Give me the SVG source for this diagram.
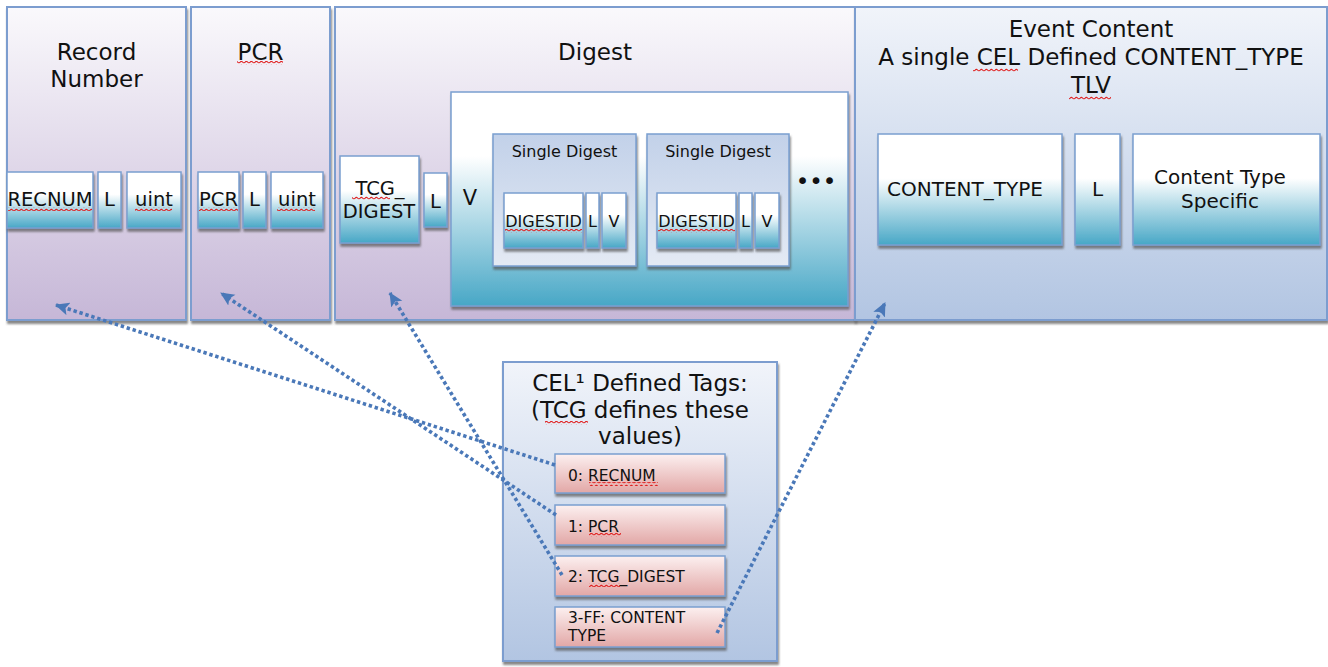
<svg xmlns="http://www.w3.org/2000/svg" width="1328" height="667" viewBox="0 0 1328 667">
<defs>
<linearGradient id="gOuter" x1="0" y1="0" x2="0" y2="1"><stop offset="0" stop-color="#faf9fc"/><stop offset="1" stop-color="#c6b7d7"/></linearGradient>
<linearGradient id="gBlue" x1="0" y1="0" x2="0" y2="1"><stop offset="0" stop-color="#f1f4fa"/><stop offset="1" stop-color="#b2c5e2"/></linearGradient>
<linearGradient id="gTeal" x1="0" y1="0" x2="0" y2="1"><stop offset="0" stop-color="#ffffff"/><stop offset="0.4" stop-color="#ffffff"/><stop offset="1" stop-color="#47a7c6"/></linearGradient>
<linearGradient id="gTealV" x1="0" y1="0" x2="0" y2="1"><stop offset="0" stop-color="#ffffff"/><stop offset="0.3" stop-color="#ffffff"/><stop offset="1" stop-color="#47a7c6"/></linearGradient>
<linearGradient id="gSingle" x1="0" y1="0" x2="0" y2="1"><stop offset="0" stop-color="#c2d1e9"/><stop offset="1" stop-color="#e4eaf4"/></linearGradient>
<linearGradient id="gPink" x1="0" y1="0" x2="0" y2="1"><stop offset="0" stop-color="#fcf0f0"/><stop offset="1" stop-color="#e2a7a6"/></linearGradient>
<filter id="sh" x="-10%" y="-10%" width="125%" height="130%"><feDropShadow dx="1" dy="3" stdDeviation="0.8" flood-color="#555" flood-opacity="0.7"/></filter>
<pattern id="wavy" width="5" height="4" patternUnits="userSpaceOnUse"><path d="M0,2.5 Q1.25,0.5 2.5,2 T5,2" fill="none" stroke="#e02020" stroke-width="1.1"/></pattern>
<marker id="arr" markerWidth="14" markerHeight="14" viewBox="0 0 14 14" refX="13" refY="7" orient="auto" markerUnits="userSpaceOnUse"><path d="M0,0.5 L14,7 L0,13.5 L3,7 Z" fill="#4a78b8"/></marker>
</defs>
<style>
.outer{stroke:#7c9dcf;stroke-width:2;filter:url(#sh)}
.box{stroke:#7a9fd0;stroke-width:1.5;filter:url(#sh)}
.teal{fill:url(#gTeal)}
.pink{fill:url(#gPink)}
text{font-family:"DejaVu Sans",Verdana,sans-serif;fill:#111}
.t23{font-size:23px;text-anchor:middle}
.t20{font-size:19.5px;text-anchor:middle}
.t16{font-size:16px;text-anchor:middle}
.tag{font-size:15.5px}
.w{fill:url(#wavy)}
.conn{fill:none;stroke:#4a78b8;stroke-width:3.6;stroke-dasharray:3.4 2.8;marker-end:url(#arr)}
</style>

<g id="record-number">
<rect class="outer" x="7" y="7" width="179" height="313" fill="url(#gOuter)"/>
<text class="t23" x="96.5" y="60">Record</text>
<text class="t23" x="96.5" y="87">Number</text>
<rect class="box teal" x="7" y="172" width="86" height="56"/>
<rect class="box teal" x="98" y="172" width="23" height="56"/>
<rect class="box teal" x="127" y="172" width="54" height="56"/>
<text class="t20" x="50" y="206">RECNUM</text>
<text class="t20" x="109.5" y="206">L</text>
<text class="t20" x="154" y="206">uint</text>
<rect class="w" x="8" y="207" width="84" height="4"/>
<rect class="w" x="135" y="207" width="37" height="4"/>
</g>

<g id="pcr">
<rect class="outer" x="191" y="7" width="139" height="313" fill="url(#gOuter)"/>
<text class="t23" x="260.5" y="60">PCR</text>
<rect class="w" x="237" y="61" width="46" height="4"/>
<rect class="box teal" x="198" y="172" width="41" height="56"/>
<rect class="box teal" x="243" y="172" width="23" height="56"/>
<rect class="box teal" x="271" y="172" width="52" height="56"/>
<text class="t20" x="218.5" y="206">PCR</text>
<text class="t20" x="254.5" y="206">L</text>
<text class="t20" x="297" y="206">uint</text>
<rect class="w" x="199" y="207" width="39" height="4"/>
<rect class="w" x="277" y="207" width="38" height="4"/>
</g>

<g id="digest">
<rect class="outer" x="335" y="7" width="520" height="313" fill="url(#gOuter)"/>
<text class="t23" x="595" y="60">Digest</text>
<rect class="box teal" x="340" y="156" width="79" height="87"/>
<text class="t20" x="380" y="195">TCG_</text>
<text class="t20" x="379" y="218">DIGEST</text>
<rect class="w" x="352" y="196" width="38" height="4"/>
<rect class="box teal" x="424" y="173" width="23" height="54"/>
<text class="t20" x="435.5" y="208">L</text>
<rect class="box" x="451" y="92" width="397" height="214" fill="url(#gTealV)"/>
<text class="t20" x="470" y="205" style="font-size:21px">V</text>
<text class="t23" x="816" y="189">•••</text>
</g>

<g id="single-digest-1">
<rect class="box" x="493" y="134" width="143" height="132" fill="url(#gSingle)"/>
<text class="t16" x="564.5" y="157">Single Digest</text>
<rect class="box teal" x="504" y="193" width="79" height="55"/>
<rect class="box teal" x="586" y="193" width="13" height="55"/>
<rect class="box teal" x="602" y="193" width="24" height="55"/>
<text class="t16" x="543.5" y="227">DIGESTID</text>
<text class="t16" x="592.5" y="227">L</text>
<text class="t16" x="614" y="227">V</text>
<rect class="w" x="505" y="229" width="77" height="4"/>
</g>

<g id="single-digest-2">
<rect class="box" x="647" y="134" width="142" height="132" fill="url(#gSingle)"/>
<text class="t16" x="718" y="157">Single Digest</text>
<rect class="box teal" x="657" y="193" width="79" height="55"/>
<rect class="box teal" x="739" y="193" width="13" height="55"/>
<rect class="box teal" x="755" y="193" width="24" height="55"/>
<text class="t16" x="696.5" y="227">DIGESTID</text>
<text class="t16" x="745.5" y="227">L</text>
<text class="t16" x="767" y="227">V</text>
<rect class="w" x="658" y="229" width="77" height="4"/>
</g>

<g id="event-content">
<rect class="outer" x="855" y="7" width="472" height="313" fill="url(#gBlue)"/>
<text class="t23" x="1091" y="37">Event Content</text>
<text class="t23" x="1091" y="65">A single CEL Defined CONTENT_TYPE</text>
<text class="t23" x="1091" y="93">TLV</text>
<rect class="w" x="973" y="68" width="45" height="4"/>
<rect class="w" x="1069" y="96" width="42" height="4"/>
<rect class="box teal" x="878" y="134" width="184" height="111"/>
<rect class="box teal" x="1075" y="134" width="45" height="111"/>
<rect class="box teal" x="1133" y="134" width="187" height="111"/>
<text x="887" y="196" style="font-size:20px">CONTENT_TYPE</text>
<text class="t20" x="1097.5" y="196" style="font-size:20px">L</text>
<text class="t20" x="1220" y="184" style="font-size:20px">Content Type</text>
<text class="t20" x="1220" y="208" style="font-size:20px">Specific</text>
</g>

<g id="cel-defined-tags">
<rect class="outer" x="503" y="362" width="274" height="299" fill="url(#gBlue)"/>
<text class="t23" x="640" y="391">CEL¹ Defined Tags:</text>
<text class="t23" x="640" y="418">(TCG defines these</text>
<text class="t23" x="640" y="444">values)</text>
<rect class="w" x="545" y="421" width="43" height="4"/>
</g>

<g id="tag-recnum">
<rect class="box pink" x="555" y="454" width="170" height="39"/>
<text class="tag" x="568" y="481">0: RECNUM</text>
<rect class="w" x="589" y="482" width="69" height="4"/>
</g>
<g id="tag-pcr">
<rect class="box pink" x="555" y="505" width="170" height="40"/>
<text class="tag" x="568" y="532">1: PCR</text>
<rect class="w" x="589" y="533" width="32" height="4"/>
</g>
<g id="tag-tcg-digest">
<rect class="box pink" x="555" y="556" width="170" height="40"/>
<text class="tag" x="568" y="582">2: TCG_DIGEST</text>
<rect class="w" x="589" y="583" width="31" height="4"/>
</g>
<g id="tag-content-type">
<rect class="box pink" x="555" y="607" width="170" height="40"/>
<text class="tag" x="568" y="623">3-FF: CONTENT</text>
<text class="tag" x="568" y="641">TYPE</text>
</g>

<g id="connectors">
<path class="conn" d="M555,465 L56,305"/>
<path class="conn" d="M556,515 L221,293"/>
<path class="conn" d="M562,575 L390,293"/>
<path class="conn" d="M717,633 L885,303"/>
</g>
</svg>
